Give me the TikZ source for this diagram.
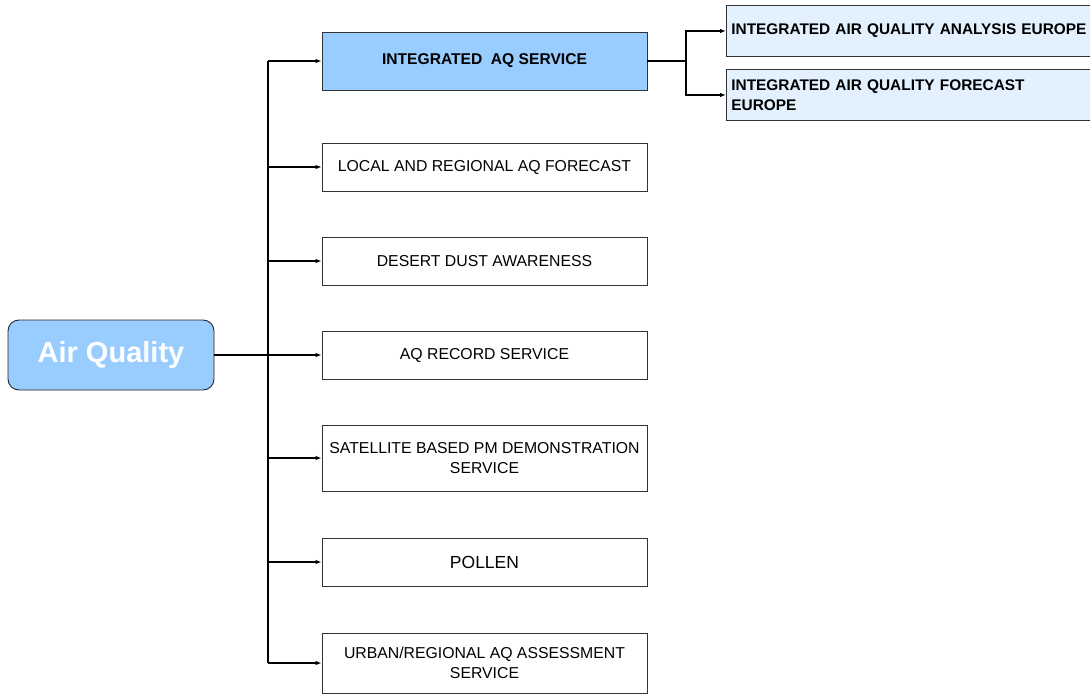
\documentclass[tikz,border=0pt]{standalone}
\usepackage{fontspec}
\setmainfont{Liberation Sans}
\usepackage{xcolor}
\definecolor{aqblue}{HTML}{99CCFF}
\definecolor{aqpale}{HTML}{E3F1FF}
\usetikzlibrary{arrows.meta}
\usetikzlibrary{positioning}

\tikzset{
  svcbox/.style={draw=black!80, line width=0.8pt, minimum width=325, minimum height=48,
    align=center, font=\fontsize{15.8}{20}\selectfont, inner sep=2pt},
  subbox/.style={draw=black!80, line width=0.8pt, fill=aqpale, minimum width=380, minimum height=51,
    text width=370, align=left, font=\bfseries\fontsize{15.4}{20}\selectfont, inner sep=4pt},
  link/.style={line width=1.3pt, -{Latex[length=6pt,width=4.5pt]}},
}

\begin{document}
\begin{tikzpicture}[x=1pt, y=-1pt]

      \useasboundingbox (0, 0) rectangle (1090, 694);
      \fill [white] (0, 0) rectangle (1090, 694);

      % root
      \node [draw=black!85, line width=0.9pt, fill=aqblue, rounded corners=11pt,
             minimum width=206, minimum height=70, text=white,
             font=\bfseries\fontsize{29}{33}\selectfont] (aq) at (111, 355) {Air Quality};

      % services
      \node [svcbox, fill=aqblue, minimum height=58, font=\bfseries\fontsize{15.6}{20}\selectfont]
            (ias) at (484.5, 61) {INTEGRATED\ \ AQ SERVICE};
      \node [svcbox] (lrf) at (484.5, 167) {LOCAL AND REGIONAL AQ FORECAST};
      \node [svcbox] (dda) at (484.5, 261) {DESERT DUST AWARENESS};
      \node [svcbox] (rec) at (484.5, 355) {AQ RECORD SERVICE};
      \node [svcbox, minimum height=66] (sat) at (484.5, 458) {SATELLITE BASED PM DEMONSTRATION\\SERVICE};
      \node [svcbox, font=\fontsize{17.5}{22}\selectfont] (pol) at (484.5, 562) {POLLEN};
      \node [svcbox, minimum height=60] (urb) at (484.5, 663) {URBAN/REGIONAL AQ ASSESSMENT\\SERVICE};

      % integrated products
      \node [subbox, anchor=west] (ana) at (726, 31) {INTEGRATED AIR QUALITY ANALYSIS EUROPE};
      \node [subbox, anchor=west] (fct) at (726, 95) {INTEGRATED AIR QUALITY FORECAST\\EUROPE};

      % trunk
      \coordinate (trunk) at (268, 355);
      \coordinate (fork) at (686, 61);
      \draw [line width=1.3pt] (aq.east) -- (trunk);
      \draw [line width=1.3pt] (trunk |- ias.west) -- (trunk |- urb.west);
      \foreach \s in {ias, lrf, dda, rec, sat, pol, urb}
        \draw [link] (trunk |- \s.west) -- (\s.west);

      \draw [line width=1.3pt] (ias.east) -- (fork);
      \draw [link] (fork) |- (ana.west);
      \draw [link] (fork) |- (fct.west);

    \end{tikzpicture}
\end{document}
